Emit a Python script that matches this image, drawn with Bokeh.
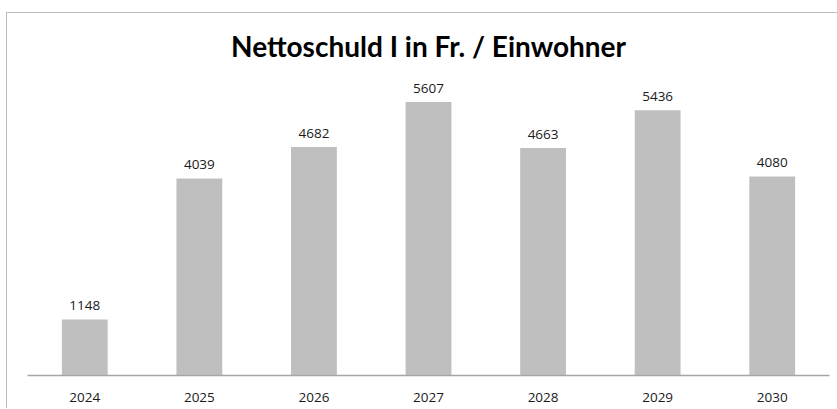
from bokeh.plotting import figure
from bokeh.models import ColumnDataSource
from bokeh.core.properties import value
from bokeh.embed import file_html
from bokeh.resources import INLINE

years = ["2024", "2025", "2026", "2027", "2028", "2029", "2030"]
debt = [1148, 4039, 4682, 5607, 4663, 5436, 4080]
labels = [str(v) for v in debt]

src = ColumnDataSource(dict(x=years, y=debt, lbl=labels))

p = figure(x_range=years, y_range=(0, 6250), width=831, height=396,
           output_backend="svg", toolbar_location=None,
           min_border_left=20, min_border_right=9,
           min_border_top=57, min_border_bottom=34,
           title="Nettoschuld I in Fr. / Einwohner")
p.styles = {"margin-left": "6px", "margin-top": "12px",
            "border-left": "1px solid #BDBDBD", "border-top": "1px solid #BDBDBD"}

p.vbar(x="x", top="y", width=0.4, source=src, fill_color="#BFBFBF", line_color=None)
p.text(x="x", y="y", text="lbl", source=src, y_offset=-9,
       text_align="center", text_baseline="bottom",
       text_font=value("Open Sans"), text_font_size="13.5px", text_color="#1a1a1a")

p.title.align = "center"
p.title.text_font = "Lato"
p.title.text_font_style = "bold"
p.title.text_font_size = "28px"
p.title.text_color = "#000000"
p.title.standoff = 15

p.yaxis.visible = False
p.xgrid.visible = False
p.ygrid.visible = False
p.outline_line_color = None
p.xaxis.major_tick_line_color = None
p.xaxis.minor_tick_line_color = None
p.xaxis.axis_line_color = "#A6A6A6"
p.xaxis.axis_line_width = 1.5
p.xaxis.major_label_text_font = "Open Sans"
p.xaxis.major_label_text_font_size = "13.5px"
p.xaxis.major_label_text_color = "#1a1a1a"
p.xaxis.major_label_standoff = 11
p.x_range.range_padding = 0

open("out.html", "w").write(file_html(p, INLINE))
